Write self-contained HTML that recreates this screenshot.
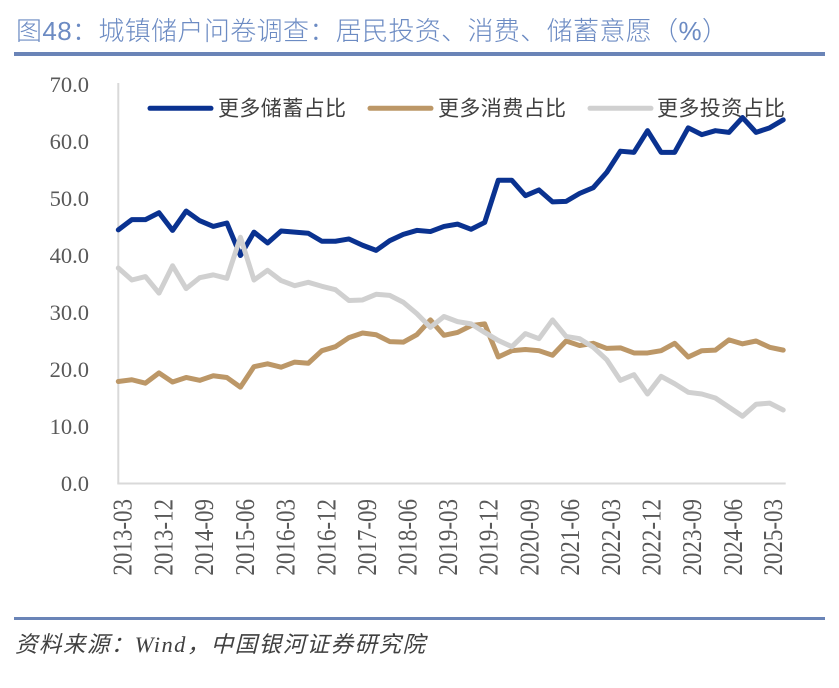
<!DOCTYPE html>
<html>
<head>
<meta charset="utf-8">
<style>
  html, body { margin:0; padding:0; background:#ffffff; }
  body { width:839px; height:688px; overflow:hidden; }
  svg { display:block; }
</style>
</head>
<body>
<svg width="839" height="688" viewBox="0 0 839 688" xmlns="http://www.w3.org/2000/svg">
  <rect x="0" y="0" width="839" height="688" fill="#ffffff"/>

  <!-- Title -->
  <text x="16" y="40" font-family="'Liberation Sans','Noto Sans CJK SC',sans-serif" font-weight="300" font-size="26" fill="#6C8BC3" textLength="712" lengthAdjust="spacing">图48：城镇储户问卷调查：居民投资、消费、储蓄意愿（%）</text>
  <rect x="14" y="52" width="811" height="4" fill="#6A84B7"/>

  <!-- Axes -->
  <line x1="118.3" y1="83" x2="118.3" y2="483.5" stroke="#D9D9D9" stroke-width="2"/>
  <line x1="117.3" y1="483.5" x2="785.7" y2="483.5" stroke="#D9D9D9" stroke-width="2"/>

  <!-- Y labels -->
  <g font-family="'Liberation Serif',serif" font-size="22.5" fill="#595959" text-anchor="end">
    <text x="89" y="92">70.0</text>
    <text x="89" y="149">60.0</text>
    <text x="89" y="206">50.0</text>
    <text x="89" y="263">40.0</text>
    <text x="89" y="320">30.0</text>
    <text x="89" y="377">20.0</text>
    <text x="89" y="434">10.0</text>
    <text x="89" y="491">0.0</text>
  </g>

  <!-- X labels -->
  <g font-family="'Liberation Serif',serif" font-size="23" fill="#595959" text-anchor="end">
    <text transform="translate(131.7,499) rotate(-90) scale(1,1.2)">2013-03</text>
    <text transform="translate(172.4,499) rotate(-90) scale(1,1.2)">2013-12</text>
    <text transform="translate(213.1,499) rotate(-90) scale(1,1.2)">2014-09</text>
    <text transform="translate(253.8,499) rotate(-90) scale(1,1.2)">2015-06</text>
    <text transform="translate(294.5,499) rotate(-90) scale(1,1.2)">2016-03</text>
    <text transform="translate(335.3,499) rotate(-90) scale(1,1.2)">2016-12</text>
    <text transform="translate(376.0,499) rotate(-90) scale(1,1.2)">2017-09</text>
    <text transform="translate(416.7,499) rotate(-90) scale(1,1.2)">2018-06</text>
    <text transform="translate(457.0,499) rotate(-90) scale(1,1.2)">2019-03</text>
    <text transform="translate(497.7,499) rotate(-90) scale(1,1.2)">2019-12</text>
    <text transform="translate(538.4,499) rotate(-90) scale(1,1.2)">2020-09</text>
    <text transform="translate(579.1,499) rotate(-90) scale(1,1.2)">2021-06</text>
    <text transform="translate(619.8,499) rotate(-90) scale(1,1.2)">2022-03</text>
    <text transform="translate(660.5,499) rotate(-90) scale(1,1.2)">2022-12</text>
    <text transform="translate(701.2,499) rotate(-90) scale(1,1.2)">2023-09</text>
    <text transform="translate(741.9,499) rotate(-90) scale(1,1.2)">2024-06</text>
    <text transform="translate(782.0,499) rotate(-90) scale(1,1.2)">2025-03</text>
  </g>

  <!-- Series -->
  <g transform="translate(118.3,483.5) scale(13.57,-5.7)" fill="none" stroke-linejoin="round" stroke-linecap="round">
    <polyline vector-effect="non-scaling-stroke" stroke="#0A3290" stroke-width="5"
      points="0,44.5 1,46.3 2,46.3 3,47.5 4,44.4 5,47.8 6,46.1 7,45.1 8,45.7 9,40.0 10,44.1 11,42.2 12,44.3 13,44.1 14,43.9 15,42.5 16,42.5 17,42.9 18,41.8 19,40.9 20,42.6 21,43.7 22,44.4 23,44.2 24,45.1 25,45.5 26,44.6 27,45.8 28,53.2 29,53.2 30,50.5 31,51.5 32,49.4 33,49.5 34,50.9 35,51.9 36,54.6 37,58.3 38,58.1 39,61.9 40,58.1 41,58.1 42,62.4 43,61.2 44,61.9 45,61.6 46,64.2 47,61.6 48,62.4 49,63.8"/>
    <polyline vector-effect="non-scaling-stroke" stroke="#BC9767" stroke-width="5"
      points="0,17.9 1,18.2 2,17.6 3,19.4 4,17.8 5,18.6 6,18.1 7,18.9 8,18.6 9,16.9 10,20.5 11,21.0 12,20.4 13,21.3 14,21.1 15,23.3 16,24.0 17,25.6 18,26.4 19,26.1 20,24.9 21,24.8 22,26.1 23,28.7 24,26.0 25,26.5 26,27.7 27,28.0 28,22.2 29,23.3 30,23.5 31,23.3 32,22.5 33,25.0 34,24.2 35,24.6 36,23.7 37,23.8 38,22.9 39,22.9 40,23.3 41,24.6 42,22.2 43,23.3 44,23.4 45,25.2 46,24.5 47,25.0 48,23.9 49,23.4"/>
    <polyline vector-effect="non-scaling-stroke" stroke="#D0D0D0" stroke-width="5"
      points="0,37.8 1,35.7 2,36.3 3,33.4 4,38.2 5,34.2 6,36.1 7,36.6 8,36.0 9,43.2 10,35.7 11,37.4 12,35.6 13,34.7 14,35.3 15,34.6 16,34.0 17,32.1 18,32.2 19,33.2 20,33.0 21,31.8 22,29.8 23,27.4 24,29.3 25,28.4 26,28.0 27,26.5 28,25.1 29,24.0 30,26.3 31,25.4 32,28.7 33,25.8 34,25.4 35,23.9 36,21.7 37,18.1 38,19.1 39,15.7 40,18.8 41,17.5 42,16.0 43,15.7 44,15.0 45,13.4 46,11.8 47,13.9 48,14.1 49,12.9"/>
  </g>

  <!-- Legend -->
  <g stroke-linecap="round" stroke-width="5">
    <line x1="150" y1="108.3" x2="211" y2="108.3" stroke="#0A3290"/>
    <line x1="370" y1="108.3" x2="431" y2="108.3" stroke="#BC9767"/>
    <line x1="590" y1="108.3" x2="651" y2="108.3" stroke="#D0D0D0"/>
  </g>
  <g font-family="'Liberation Sans','Noto Sans CJK SC',sans-serif" font-size="21" fill="#404040">
    <text x="218" y="115.5" textLength="128" lengthAdjust="spacing">更多储蓄占比</text>
    <text x="438" y="115.5" textLength="128" lengthAdjust="spacing">更多消费占比</text>
    <text x="657" y="115.5" textLength="128" lengthAdjust="spacing">更多投资占比</text>
  </g>

  <!-- Footer -->
  <rect x="14" y="617" width="811" height="3" fill="#6A84B7"/>
  <text x="15" y="652" font-family="'Liberation Serif','Noto Sans CJK SC',sans-serif" font-style="italic" font-size="22.5" fill="#404040" textLength="410" lengthAdjust="spacing">资料来源：Wind，中国银河证券研究院</text>
</svg>
</body>
</html>
